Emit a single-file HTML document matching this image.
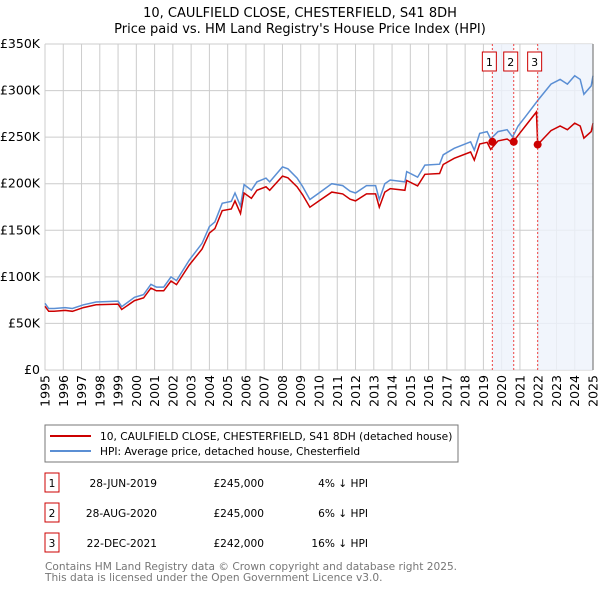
<!DOCTYPE html>
<html><head><meta charset="utf-8"><style>
body{margin:0;background:#fff;font-family:"Liberation Sans","DejaVu Sans",sans-serif;}
svg text{font-family:"DejaVu Sans","Liberation Sans",sans-serif;}
</style></head><body>
<svg id="c" width="600" height="590" xmlns="http://www.w3.org/2000/svg">
<text x="300" y="17" text-anchor="middle" font-size="13">10, CAULFIELD CLOSE, CHESTERFIELD, S41 8DH</text>
<text x="300" y="33" text-anchor="middle" font-size="13">Price paid vs. HM Land Registry's House Price Index (HPI)</text>
<g id="grid"></g><g id="shade"></g><g id="series"></g><g id="marks"></g><g id="axes"></g>
<rect x="45" y="425" width="413" height="37" fill="#fff" stroke="#777"/>
<line x1="50" y1="436" x2="91" y2="436" stroke="#cc0000" stroke-width="2"/>
<text x="100" y="440" font-size="10.6">10, CAULFIELD CLOSE, CHESTERFIELD, S41 8DH (detached house)</text>
<line x1="50" y1="451" x2="91" y2="451" stroke="#5b8fd4" stroke-width="2"/>
<text x="100" y="455" font-size="10.6">HPI: Average price, detached house, Chesterfield</text>
<g id="table" font-size="10.6"></g>
<text x="45" y="570" font-size="10.6" fill="#777">Contains HM Land Registry data © Crown copyright and database right 2025.</text>
<text x="45" y="581" font-size="10.6" fill="#777">This data is licensed under the Open Government Licence v3.0.</text>
</svg>
<script>
const hpiDates=[1995.0,1995.2,1995.5,1996.1,1996.5,1997.1,1997.8,1999.0,1999.2,1999.9,2000.4,2000.8,2001.1,2001.5,2001.9,2002.2,2002.9,2003.6,2004.0,2004.3,2004.7,2005.2,2005.4,2005.7,2005.9,2006.3,2006.6,2007.1,2007.3,2008.0,2008.3,2008.8,2009.1,2009.5,2010.0,2010.7,2011.3,2011.7,2012.0,2012.6,2013.1,2013.3,2013.6,2013.9,2014.7,2014.8,2015.4,2015.8,2016.6,2016.8,2017.4,2018.3,2018.5,2018.8,2019.2,2019.4,2019.8,2020.3,2020.6,2020.9,2021.3,2022.0,2022.7,2023.2,2023.6,2024.0,2024.3,2024.5,2024.9,2025.0];
const hpiValues=[71.6,66,66,67,66,70,73,74,68,78,81,92,89,89,100,96,118,136,154,159,179,181,190,176,199,193,202,206,202,218,216,206,197,183,190,200,198,192,190,198,198,183,200,204,202,213,207,220,221,231,238,245,236,254,256,248,256,258,250,262,272,290,307,312,307,316,312,296,305,316];
const propDates=[1995.0,1995.2,1995.5,1996.1,1996.5,1997.1,1997.8,1999.0,1999.2,1999.9,2000.4,2000.8,2001.1,2001.5,2001.9,2002.2,2002.9,2003.6,2004.0,2004.3,2004.7,2005.2,2005.4,2005.7,2005.9,2006.3,2006.6,2007.1,2007.3,2008.0,2008.3,2008.8,2009.1,2009.5,2010.0,2010.7,2011.3,2011.7,2012.0,2012.6,2013.1,2013.3,2013.6,2013.9,2014.7,2014.8,2015.4,2015.8,2016.6,2016.8,2017.4,2018.3,2018.5,2018.8,2019.2,2019.4,2019.8,2020.3,2020.6,2020.9,2021.3,2021.9,2021.97,2022.7,2023.2,2023.6,2024.0,2024.3,2024.5,2024.9,2025.0];
const propValues=[68.4,63,63,64,63,67,70,70.7,65,74.5,77.4,87.9,85,85,95.5,91.7,112.7,129.9,147,151.8,171,172.9,181.5,168,190,184.3,192.9,196.7,192.9,208.2,206.3,196.7,188.1,174.8,181.5,191,189.1,183.4,181.5,189.1,189.1,174.8,191,194.8,192.9,203.4,197.7,210.1,211,220.6,227.3,234,225.4,242.6,244.5,236.8,246,248,244,252,262,277,242,257,262,258,265,262,249,256,265];
const saleLabels=["1","2","3"];
const saleDates=[2019.49,2020.66,2021.97];
const salePrices=[245,245,242];
const saleDateText=["28-JUN-2019","28-AUG-2020","22-DEC-2021"];
const salePriceText=["£245,000","£245,000","£242,000"];
const saleHpiText=["4% ↓ HPI","6% ↓ HPI","16% ↓ HPI"];
const yTicks=[0,50,100,150,200,250,300,350];
const yTickLabels=["£0","£50K","£100K","£150K","£200K","£250K","£300K","£350K"];
const xYears=[1995,1996,1997,1998,1999,2000,2001,2002,2003,2004,2005,2006,2007,2008,2009,2010,2011,2012,2013,2014,2015,2016,2017,2018,2019,2020,2021,2022,2023,2024,2025];

const X0=45,X1=593,Y0=370,Y1=44;
const xs=t=>X0+(t-1995)/30*(X1-X0);
const ys=v=>Y0-v/350*(Y0-Y1);
const NS="http://www.w3.org/2000/svg";
function mk(parent,tag,attrs){const e=document.createElementNS(NS,tag);for(const k in attrs)e.setAttribute(k,attrs[k]);document.getElementById(parent).appendChild(e);return e;}
for(let i=0;i<yTicks.length;i++){
 const g=mk('grid','line',{x1:X0,x2:X1,y1:ys(yTicks[i]),y2:ys(yTicks[i]),stroke:'#ccc'});
 
 
 const t=mk('axes','text',{x:40,y:ys(yTicks[i])+4,'text-anchor':'end','font-size':'12.5'});
 t.textContent=yTickLabels[i];
 
 
}
for(const yr of xYears){
 const g=mk('grid','line',{x1:xs(yr),x2:xs(yr),y1:Y1,y2:Y0,stroke:'#ccc'});
 
 
 const t=mk('axes','text',{x:0,y:0,'text-anchor':'end','font-size':'12.5',transform:`translate(${xs(yr)+4.5},${Y0+5}) rotate(-90)`});
 t.textContent=yr;
 
 
}
const ax=mk('axes','line',{x1:X1,x2:X1,y1:Y1,y2:Y0,stroke:'#666'});


const s1=mk('shade','rect',{x:xs(saleDates[0]),y:Y1,width:xs(saleDates[1])-xs(saleDates[0]),height:Y0-Y1,fill:'#eef2fb',opacity:0.8});


const s2=mk('shade','rect',{x:xs(saleDates[2]),y:Y1,width:X1-xs(saleDates[2]),height:Y0-Y1,fill:'#eef2fb',opacity:0.8});


function path(d,v){return d.map((t,i)=>(i?'L':'M')+xs(t).toFixed(1)+','+ys(v[i]).toFixed(1)).join('');}
const hl=mk('series','path',{d:path(hpiDates,hpiValues),fill:'none',stroke:'#5b8fd4','stroke-width':1.5});


const pl=mk('series','path',{d:path(propDates,propValues),fill:'none',stroke:'#cc0000','stroke-width':1.5});


for(let i=0;i<saleDates.length;i++){
 const x=xs(saleDates[i]);
 const l=mk('marks','line',{x1:x,x2:x,y1:Y1,y2:Y0,stroke:'#e44','stroke-dasharray':'2,2','stroke-width':1});
 
 
 const c=mk('marks','circle',{cx:x,cy:ys(salePrices[i]),r:4,fill:'#cc0000'});
 
 
 const b=mk('marks','rect',{x:x-10,y:52,width:14,height:19,fill:'#fff',stroke:'#cc0000'});
 
 
 const t=mk('marks','text',{x:x-3,y:66,'text-anchor':'middle','font-size':'11'});
 t.textContent=saleLabels[i];
 
 
 const ry=473+i*30;
 const tb=mk('table','rect',{x:45,y:ry,width:14,height:19,fill:'#fff',stroke:'#cc0000'});
 
 
 const tn=mk('table','text',{x:52,y:ry+14,'text-anchor':'middle'});tn.textContent=saleLabels[i];
 
 
 const td=mk('table','text',{x:157,y:ry+14,'text-anchor':'end'});td.textContent=saleDateText[i];
 
 
 const tp=mk('table','text',{x:264,y:ry+14,'text-anchor':'end'});tp.textContent=salePriceText[i];
 
 
 const th=mk('table','text',{x:368,y:ry+14,'text-anchor':'end'});th.textContent=saleHpiText[i];
 
 
}
</script>
</body></html>
